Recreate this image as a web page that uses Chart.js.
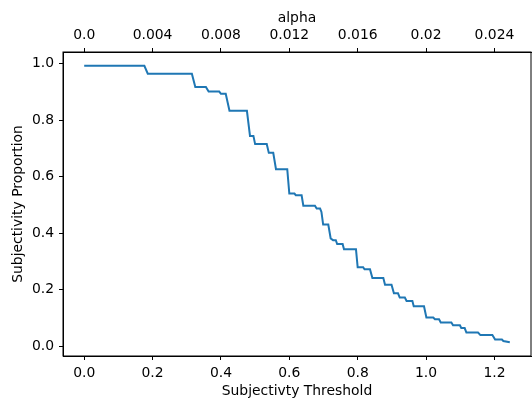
<!DOCTYPE html>
<html>
<head>
<meta charset="utf-8">
<script src="https://cdn.jsdelivr.net/npm/chart.js@4/dist/chart.umd.min.js"></script>
<style>
  html, body { margin: 0; padding: 0; background: #fff; }
</style>
</head>
<body>
<canvas id="chart" width="532" height="398"></canvas>
<script>
// step curve
const thresholds = [
  0.000, 0.176, 0.186, 0.315, 0.325, 0.356, 0.364, 0.395, 0.400, 0.414,
  0.425, 0.476, 0.485, 0.495, 0.500, 0.534, 0.540, 0.553, 0.561, 0.594,
  0.600, 0.615, 0.619, 0.636, 0.641, 0.675, 0.680, 0.690, 0.694, 0.699,
  0.714, 0.721, 0.728, 0.736, 0.740, 0.756, 0.760, 0.795, 0.800, 0.816,
  0.820, 0.836, 0.843, 0.875, 0.880, 0.899, 0.906, 0.918, 0.923, 0.938,
  0.943, 0.960, 0.964, 0.994, 1.001, 1.021, 1.026, 1.038, 1.043, 1.074,
  1.079, 1.099, 1.103, 1.113, 1.118, 1.152, 1.159, 1.194, 1.202, 1.222,
  1.226, 1.245
];
const proportions = [
  0.993, 0.993, 0.965, 0.965, 0.918, 0.918, 0.902, 0.902, 0.894, 0.894,
  0.834, 0.834, 0.745, 0.745, 0.716, 0.716, 0.685, 0.685, 0.627, 0.627,
  0.541, 0.541, 0.535, 0.535, 0.498, 0.498, 0.488, 0.488, 0.476, 0.431,
  0.431, 0.382, 0.376, 0.376, 0.362, 0.362, 0.344, 0.344, 0.280, 0.280,
  0.273, 0.273, 0.242, 0.242, 0.218, 0.218, 0.188, 0.188, 0.173, 0.173,
  0.161, 0.161, 0.142, 0.142, 0.102, 0.102, 0.096, 0.096, 0.085, 0.085,
  0.075, 0.075, 0.065, 0.065, 0.049, 0.049, 0.040, 0.040, 0.024, 0.024,
  0.019, 0.015
];

const xTicks = [0, 0.2, 0.4, 0.6, 0.8, 1.0, 1.2];
const yTicks = [0, 0.2, 0.4, 0.6, 0.8, 1.0];
const alphaTicks = [0, 0.004, 0.008, 0.012, 0.016, 0.02, 0.024];
const alphaLabels = ["0.0", "0.004", "0.008", "0.012", "0.016", "0.02", "0.024"];

const xMin = -0.062, xMax = 1.307;
const alphaScale = 50; // alpha = threshold / 50

const font = { family: "DejaVu Sans", size: 13.9 };

const frame = {
  id: "frame",
  afterDraw(chart) {
    const { ctx, chartArea: a } = chart;
    ctx.save();
    ctx.strokeStyle = "#000";
    ctx.lineWidth = 1;
    ctx.strokeRect(a.left, a.top, a.right - a.left, a.bottom - a.top);
    ctx.restore();
  },
};

const tickGrid = {
  drawOnChartArea: false,
  drawTicks: true,
  tickLength: 4,
  tickWidth: 1,
  tickColor: "#000",
};

new Chart(document.getElementById("chart"), {
  type: "scatter",
  data: {
    datasets: [
      {
        data: thresholds.map((t, i) => ({ x: t, y: proportions[i] })),
        showLine: true,
        borderColor: "#1f77b4",
        borderWidth: 2,
        pointRadius: 0,
        tension: 0,
        xAxisID: "x",
        yAxisID: "y",
      },
    ],
  },
  options: {
    responsive: false,
    animation: false,
    layout: { padding: { left: 0, right: 1, top: 0, bottom: 0 } },
    plugins: { legend: { display: false }, tooltip: { enabled: false } },
    scales: {
      x: {
        type: "linear",
        position: "bottom",
        min: xMin,
        max: xMax,
        grid: tickGrid,
        border: { display: true, color: "#000", width: 1 },
        afterBuildTicks: (axis) => { axis.ticks = xTicks.map((v) => ({ value: v })); },
        afterFit: (axis) => { axis.height = 42; },
        ticks: {
          color: "#000",
          font,
          padding: 5,
          maxRotation: 0,
          callback: (v) => v.toFixed(1),
        },
        title: { display: true, text: "Subjectivty Threshold", color: "#000", font, padding: { bottom: -2 } },
      },
      x2: {
        type: "linear",
        position: "top",
        min: xMin / alphaScale,
        max: xMax / alphaScale,
        grid: tickGrid,
        border: { display: true, color: "#000", width: 1 },
        afterBuildTicks: (axis) => { axis.ticks = alphaTicks.map((v) => ({ value: v })); },
        afterFit: (axis) => { axis.height = 52; },
        ticks: {
          color: "#000",
          font,
          padding: 4.5,
          maxRotation: 0,
          callback: (v) => alphaLabels[alphaTicks.findIndex((a) => Math.abs(a - v) < 1e-9)],
        },
        title: { display: true, text: "alpha", color: "#000", font, padding: { top: 10.4 } },
      },
      y: {
        type: "linear",
        position: "left",
        min: -0.034,
        max: 1.042,
        grid: tickGrid,
        border: { display: true, color: "#000", width: 1 },
        afterBuildTicks: (axis) => { axis.ticks = yTicks.map((v) => ({ value: v })); },
        afterFit: (axis) => { axis.width = 63; },
        ticks: {
          color: "#000",
          font,
          padding: 5,
          callback: (v) => v.toFixed(1),
        },
        title: { display: true, text: "Subjectivity Proportion", color: "#000", font, padding: { top: 10 } },
      },
    },
  },
  plugins: [frame],
});
</script>
</body>
</html>
